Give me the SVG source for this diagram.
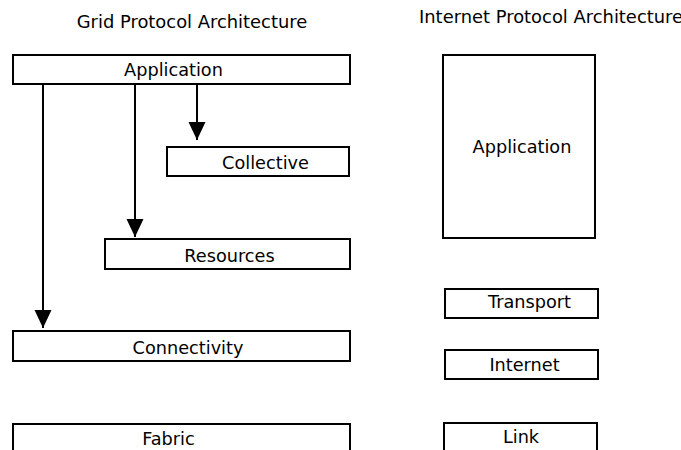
<svg xmlns="http://www.w3.org/2000/svg" width="681" height="450" viewBox="0 0 681 450">
<style>
.box{fill:#fff;stroke:#000;stroke-width:2}
.lbl{font-family:"DejaVu Sans",sans-serif;font-size:17.7px;fill:#000;text-anchor:middle}
.ttl{font-family:"DejaVu Sans",sans-serif;font-size:17.9px;fill:#000}
.conn{stroke:#000;stroke-width:2;fill:none;marker-end:url(#ah)}
</style>
<defs>
<marker id="ah" markerUnits="userSpaceOnUse" markerWidth="18" markerHeight="18" refX="18" refY="9" orient="auto" viewBox="0 0 18 18">
<path d="M0,0.5 L18,9 L0,17.5 z" fill="#000"/>
</marker>
</defs>
<rect width="681" height="450" fill="#fff"/>
<text class="ttl" x="192" y="28" text-anchor="middle">Grid Protocol Architecture</text>
<text class="ttl" x="419" y="23">Internet Protocol Architecture</text>
<g id="connectors">
<line class="conn" x1="197" y1="85" x2="197" y2="140"/>
<line class="conn" x1="135" y1="85" x2="135" y2="237"/>
<line class="conn" x1="43" y1="85" x2="43" y2="328"/>
</g>
<g id="grid-application"><rect class="box" x="13" y="55" width="337" height="29"/><text class="lbl" x="173.5" y="76">Application</text></g>
<g id="collective"><rect class="box" x="167" y="147" width="182" height="29"/><text class="lbl" x="265.5" y="169">Collective</text></g>
<g id="resources"><rect class="box" x="105" y="239" width="245" height="30"/><text class="lbl" x="229.5" y="262">Resources</text></g>
<g id="connectivity"><rect class="box" x="13" y="331" width="337" height="30"/><text class="lbl" x="188" y="354">Connectivity</text></g>
<g id="fabric"><rect class="box" x="13" y="424" width="337" height="40"/><text class="lbl" x="168.5" y="445">Fabric</text></g>
<g id="internet-application"><rect class="box" x="443" y="55" width="152" height="183"/><text class="lbl" x="522" y="153">Application</text></g>
<g id="transport"><rect class="box" x="445" y="289" width="153" height="29"/><text class="lbl" x="529.5" y="308">Transport</text></g>
<g id="internet"><rect class="box" x="445" y="350" width="153" height="29"/><text class="lbl" x="524.5" y="371">Internet</text></g>
<g id="link"><rect class="box" x="444" y="423" width="153" height="40"/><text class="lbl" x="521" y="443">Link</text></g>
</svg>
